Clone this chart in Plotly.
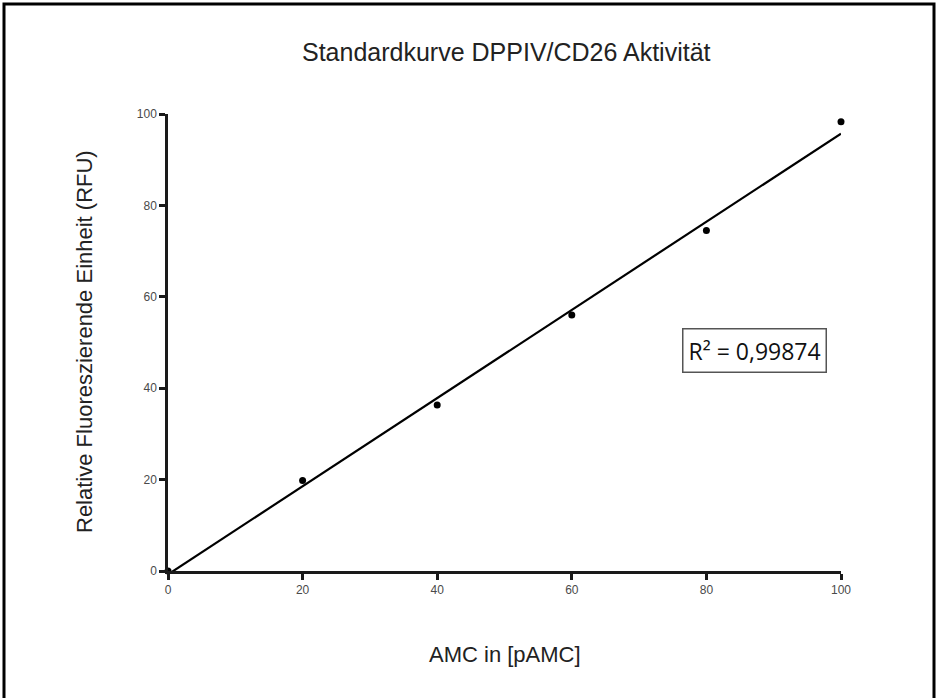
import numpy as np
import plotly.graph_objects as go

# Data
amc = [0, 20, 40, 60, 80, 100]
rfu = [0, 19.8, 36.3, 56.0, 74.5, 98.3]
x_ticks = [0, 20, 40, 60, 80, 100]
y_ticks = [0, 20, 40, 60, 80, 100]
r2_text = "R² = 0,99874"

slope, intercept = np.polyfit(amc, rfu, 1)
fit_x = [min(amc), max(amc)]
fit_y = [slope * v + intercept for v in fit_x]

W, H = 936, 698
L, R, T, B = 168, 95, 114, 127
pw, ph = W - L - R, H - T - B

def px(xp):
    return (xp - L) / pw

def py(yp):
    return (H - B - yp) / ph

fig = go.Figure()
fig.add_trace(go.Scatter(x=fit_x, y=fit_y, mode="lines",
                         line=dict(color="black", width=2.2), showlegend=False,
                         hoverinfo="skip"))
fig.add_trace(go.Scatter(x=amc, y=rfu, mode="markers",
                         marker=dict(color="black", size=7), showlegend=False,
                         cliponaxis=False))

fig.update_layout(
    width=W, height=H,
    margin=dict(l=L, r=R, t=T, b=B),
    paper_bgcolor="white", plot_bgcolor="white",
    font=dict(family="Liberation Sans, Arial, sans-serif", color="#333"),
    showlegend=False,
    xaxis=dict(range=[0, 100], tickvals=x_ticks, showgrid=False, zeroline=False,
               showline=True, linecolor="#1a1a1a", linewidth=2.5,
               ticks="outside", ticklen=6, tickwidth=2.5, tickcolor="#1a1a1a",
               tickfont=dict(size=12, color="#4a4a4a")),
    yaxis=dict(range=[0, 100], tickvals=y_ticks, showgrid=False, zeroline=False,
               showline=True, linecolor="#1a1a1a", linewidth=2.5,
               ticks="outside", ticklen=6, tickwidth=2.5, tickcolor="#1a1a1a",
               tickfont=dict(size=12, color="#4a4a4a")),
)

fig.add_annotation(text="Standardkurve DPPIV/CD26 Aktivität", xref="paper", yref="paper",
                   x=px(506), y=py(52), showarrow=False,
                   font=dict(size=25, color="#222"), xanchor="center", yanchor="middle")
fig.add_annotation(text="AMC in [pAMC]", xref="paper", yref="paper",
                   x=px(505), y=py(654), showarrow=False,
                   font=dict(size=22, color="#222"), xanchor="center", yanchor="middle")
fig.add_annotation(text="Relative Fluoreszierende Einheit (RFU)", xref="paper", yref="paper",
                   x=px(84), y=py(342), showarrow=False, textangle=-90,
                   font=dict(size=22, color="#222"), xanchor="center", yanchor="middle")
fig.add_annotation(text=r2_text, xref="paper", yref="paper",
                   x=px(754), y=py(350), showarrow=False,
                   font=dict(size=23, color="#111", family="Open Sans, Liberation Sans, sans-serif"),
                   xanchor="center", yanchor="middle",
                   bordercolor="#555", borderwidth=1.5, borderpad=5, bgcolor="white")

# outer frame (left, top, right)
fig.add_shape(type="path", xref="paper", yref="paper",
              path=f"M {px(4)},{py(710)} L {px(4)},{py(4)} L {px(934)},{py(4)} L {px(934)},{py(710)}",
              line=dict(color="black", width=3))

fig.write_html("out.html")
